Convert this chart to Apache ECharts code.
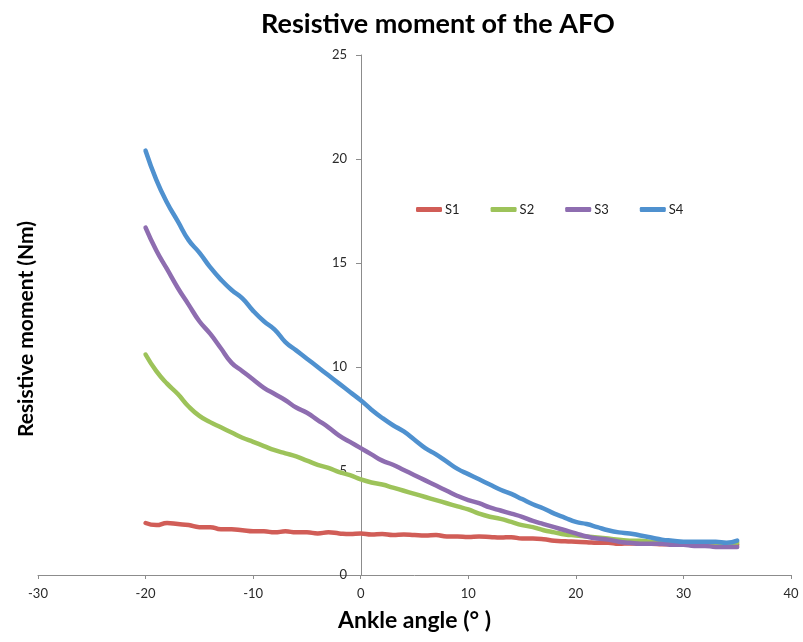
<!DOCTYPE html>
<html>
<head>
<meta charset="utf-8">
<script src="https://cdn.jsdelivr.net/npm/echarts@6/dist/echarts.min.js"></script>
<style>
  html, body { margin: 0; padding: 0; background: #fff; }
  #chart { width: 803px; height: 642px; }
</style>
</head>
<body>
<div id="chart"></div>
<script>
// ankle angle (deg), -20 .. 35
const angles = [];
for (let a = -20; a <= 35; a++) angles.push(a);

const s1 = [2.5, 2.4, 2.5, 2.45, 2.4, 2.3, 2.3, 2.2, 2.2, 2.15, 2.1, 2.1, 2.05, 2.1, 2.05, 2.05, 2.0, 2.05, 2.0, 1.97,
  2.0, 1.95, 1.97, 1.92, 1.95, 1.92, 1.9, 1.92, 1.85, 1.85, 1.83, 1.85, 1.83, 1.8, 1.82, 1.75, 1.75, 1.72, 1.65, 1.62,
  1.6, 1.58, 1.55, 1.55, 1.5, 1.52, 1.5, 1.5, 1.48, 1.47, 1.45, 1.45, 1.45, 1.43, 1.42, 1.45];
const s2 = [10.6, 9.8, 9.2, 8.7, 8.1, 7.65, 7.35, 7.1, 6.85, 6.6, 6.4, 6.2, 6.0, 5.85, 5.7, 5.5, 5.3, 5.15, 4.95, 4.8,
  4.6, 4.45, 4.35, 4.2, 4.05, 3.9, 3.75, 3.6, 3.45, 3.3, 3.15, 2.95, 2.8, 2.7, 2.55, 2.4, 2.3, 2.15, 2.05, 1.95,
  1.9, 1.85, 1.8, 1.75, 1.7, 1.65, 1.65, 1.6, 1.6, 1.55, 1.55, 1.5, 1.5, 1.5, 1.5, 1.55];
const s3 = [16.7, 15.6, 14.7, 13.8, 13.0, 12.2, 11.6, 10.9, 10.2, 9.8, 9.4, 9.0, 8.7, 8.4, 8.05, 7.8, 7.45, 7.1, 6.7, 6.4,
  6.1, 5.8, 5.5, 5.3, 5.05, 4.8, 4.55, 4.3, 4.05, 3.8, 3.6, 3.45, 3.25, 3.1, 2.95, 2.8, 2.6, 2.45, 2.3, 2.15,
  2.0, 1.85, 1.75, 1.7, 1.6, 1.55, 1.5, 1.5, 1.5, 1.45, 1.45, 1.4, 1.4, 1.35, 1.35, 1.35];
const s4 = [20.4, 19.0, 17.9, 17.0, 16.1, 15.5, 14.8, 14.2, 13.7, 13.3, 12.7, 12.2, 11.8, 11.2, 10.8, 10.4, 10.0, 9.6, 9.2, 8.8,
  8.4, 7.95, 7.55, 7.2, 6.9, 6.5, 6.1, 5.8, 5.45, 5.1, 4.85, 4.6, 4.35, 4.1, 3.9, 3.65, 3.4, 3.2, 2.95, 2.75,
  2.55, 2.45, 2.3, 2.15, 2.05, 2.0, 1.9, 1.8, 1.7, 1.65, 1.6, 1.6, 1.6, 1.6, 1.55, 1.65];

const seriesNames = ["S1", "S2", "S3", "S4"];
const seriesData = [s1, s2, s3, s4];
const colors = ["#d15d57", "#9dc35a", "#8e6db0", "#4f91cf"];

const font = "Lato, 'Open Sans', sans-serif";

let myChart = echarts.init(document.getElementById("chart"));
let option = {
  animation: false,
  title: {
    text: "Resistive moment of the AFO",
    left: 433,
    top: 6,
    textAlign: "center",
    textStyle: { fontFamily: font, fontSize: 27, fontWeight: "bold", color: "#000" }
  },
  legend: {
    data: seriesNames,
    left: 411,
    top: 198,
    icon: "roundRect",
    itemWidth: 26,
    itemHeight: 5,
    itemGap: 31,
    textStyle: { fontFamily: font, fontSize: 13, color: "#222", padding: [0, 0, 0, -2] }
  },
  grid: { left: 38, right: 12, top: 55, bottom: 67, containLabel: false, outerBoundsMode: "none" },
  xAxis: {
    type: "value",
    min: -30,
    max: 40,
    interval: 10,
    name: "Ankle angle (° )",
    nameLocation: "middle",
    nameGap: 34,
    nameTextStyle: { fontFamily: font, fontSize: 23, fontWeight: "bold", color: "#000" },
    splitLine: { show: false },
    axisLine: { lineStyle: { color: "#8c8c8c" } },
    axisTick: { length: 4, lineStyle: { color: "#8c8c8c" } },
    axisLabel: { fontFamily: font, fontSize: 13, color: "#2a2a2a", margin: 12 }
  },
  yAxis: {
    type: "value",
    min: 0,
    max: 25,
    interval: 5,
    // axis drawn at x = 0 (grid left 38 px + 323 px)
    offset: -323,
    name: "Resistive moment (Nm)",
    nameLocation: "middle",
    nameGap: 324,
    nameTextStyle: { fontFamily: font, fontSize: 21, fontWeight: "bold", color: "#000", padding: [0, 28, 0, 0] },
    splitLine: { show: false },
    axisLine: { show: true, onZero: false, lineStyle: { color: "#8c8c8c" } },
    axisTick: { show: true, length: 5, lineStyle: { color: "#8c8c8c" } },
    axisLabel: { fontFamily: font, fontSize: 13, color: "#2a2a2a", margin: 14 }
  },
  series: seriesNames.map((name, i) => ({
    name: name,
    type: "line",
    data: angles.map((a, j) => [a, seriesData[i][j]]),
    symbol: "none",
    smooth: true,
    lineStyle: { width: 4.5, color: colors[i], cap: "round" },
    itemStyle: { color: colors[i] }
  }))
};
myChart.setOption(option);
</script>
</body>
</html>
